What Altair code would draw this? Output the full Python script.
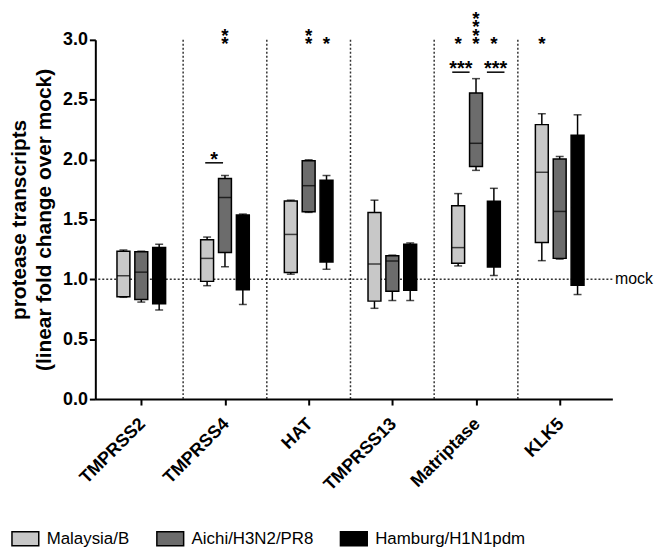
import json
import altair as alt
import pandas as pd

categories = ["TMPRSS2", "TMPRSS4", "HAT", "TMPRSS13", "Matriptase", "KLK5"]
groups = ["Malaysia/B", "Aichi/H3N2/PR8", "Hamburg/H1N1pdm"]
colors = ["#c8c8c8", "#6c6c6c", "#000000"]

# five-number summaries per group, in category order
mal_min = [0.85, 0.947, 1.043, 0.758, 1.112, 1.156]
mal_q1 = [0.855, 0.983, 1.057, 0.818, 1.134, 1.307]
mal_med = [1.03, 1.175, 1.375, 1.128, 1.265, 1.894]
mal_q3 = [1.235, 1.331, 1.655, 1.559, 1.614, 2.292]
mal_max = [1.245, 1.353, 1.661, 1.661, 1.716, 2.383]

aic_min = [0.81, 1.106, 1.559, 0.823, 1.91, 1.169]
aic_q1 = [0.832, 1.224, 1.565, 0.90, 1.943, 1.175]
aic_med = [1.06, 1.683, 1.782, 1.153, 2.136, 1.567]
aic_q3 = [1.23, 1.842, 1.99, 1.197, 2.556, 2.004]
aic_max = [1.235, 1.867, 1.998, 1.202, 2.676, 2.026]

ham_min = [0.744, 0.79, 1.084, 0.823, 1.032, 0.873]
ham_q1 = [0.796, 0.914, 1.145, 0.909, 1.103, 0.95]
ham_med = [1.0, 1.2, 1.5, 1.1, 1.35, 1.6]
ham_q3 = [1.265, 1.537, 1.828, 1.293, 1.653, 2.204]
ham_max = [1.293, 1.545, 1.867, 1.304, 1.76, 2.374]

# significance stars: category index, group index, y value (glyph centre)
star_cat = [1, 1, 2, 2, 2, 4, 4, 4, 4, 4, 4, 5]
star_grp = [1, 1, 1, 1, 2, 0, 1, 1, 1, 1, 2, 0]
star_y = [3.0, 3.068, 3.0, 3.068, 3.0, 3.0, 3.0, 3.068, 3.136, 3.204, 3.0, 3.0]

# comparison brackets: x from / to (category units), y, label
br_x1 = [0.764, 3.716, 4.13]
br_x2 = [0.977, 3.923, 4.34]
br_y = [1.973, 2.73, 2.73]
br_lab_y = [2.04, 2.80, 2.80]
br_text = ["*", "***", "***"]

y_ticks = [0, 0.5, 1.0, 1.5, 2.0, 2.5, 3.0]
mock_y = [1.0]

SPREAD = 0.2135
series = [
    (mal_min, mal_q1, mal_med, mal_q3, mal_max),
    (aic_min, aic_q1, aic_med, aic_q3, aic_max),
    (ham_min, ham_q1, ham_med, ham_q3, ham_max),
]
rows = []
for gi, (mn, q1, md, q3, mx) in enumerate(series):
    for ci, c in enumerate(categories):
        rows.append(dict(category=c, ci=ci, group=groups[gi], gi=gi,
                         mn=mn[ci], q1=q1[ci], med=md[ci], q3=q3[ci], mx=mx[ci]))
df = pd.DataFrame(rows)

stars = pd.DataFrame(dict(ci=star_cat, gi=star_grp, y=star_y, t=["*"] * len(star_cat)))
brackets = pd.DataFrame(dict(x1=br_x1, x2=br_x2, y=br_y, ly=br_lab_y, t=br_text))
seps = pd.DataFrame(dict(s=[i + 0.5 for i in range(len(categories) - 1)]))
mock = pd.DataFrame(dict(y=mock_y, x=[5.66], t=["mock"]))

label_expr = json.dumps(categories) + "[round(datum.value)]"
FONT = "Liberation Sans"

xscale = alt.Scale(domain=[-0.49, 5.57], nice=False, zero=False)
xaxis = alt.Axis(values=list(range(len(categories))), labelExpr=label_expr, labelAngle=-45,
                 labelAlign="right", labelBaseline="middle",
                 title=None, grid=False, labelFontSize=18, labelFontWeight="bold",
                 labelFont=FONT, labelColor="black", tickSize=6, tickWidth=2,
                 tickColor="black", domainWidth=2, domainColor="black", labelPadding=16,
                 labelOffset=1)
yscale = alt.Scale(domain=[0, 3], nice=False)
yaxis = alt.Axis(values=y_ticks, format=".1f", grid=False,
                 title=["protease transcripts", "(linear fold change over mock)"],
                 titleFontSize=21, titleFont=FONT, titleFontWeight="bold", titleColor="black",
                 titleLineHeight=25, titlePadding=8,
                 labelFontSize=18, labelFontWeight="bold", labelFont=FONT, labelColor="black",
                 tickSize=6, tickWidth=2, tickColor="black", domainWidth=2, domainColor="black",
                 labelPadding=2)


def X(field):
    return alt.X(field, type="quantitative", scale=xscale, axis=xaxis)


def Y(field):
    return alt.Y(field, type="quantitative", scale=yscale, axis=yaxis)


base = alt.Chart(df).transform_calculate(pos=f"datum.ci + (datum.gi - 1) * {SPREAD}")

sep_layer = alt.Chart(seps).mark_rule(strokeDash=[2, 2], strokeWidth=1.5, color="#333333").encode(
    x=X("s"))
mock_layer = alt.Chart(mock).mark_rule(strokeDash=[2, 2], strokeWidth=1.5, color="#333333").encode(
    y=Y("y"))
mock_text = alt.Chart(mock).mark_text(align="left", baseline="middle", fontSize=16, font=FONT,
                                      color="black").encode(x=X("x"), y=Y("y"), text="t:N")

whisk = base.mark_rule(color="black", strokeWidth=1.5).encode(x=X("pos"), y=Y("mn"), y2="mx")
cap_hi = base.mark_tick(orient="horizontal", size=8, thickness=1.5, color="black").encode(
    x=X("pos"), y=Y("mx"))
cap_lo = base.mark_tick(orient="horizontal", size=8, thickness=1.5, color="black").encode(
    x=X("pos"), y=Y("mn"))
box = base.mark_bar(size=13, stroke="black", strokeWidth=1.5).encode(
    x=X("pos"), y=Y("q1"), y2="q3",
    fill=alt.Fill("group:N", sort=groups,
                  scale=alt.Scale(domain=groups, range=colors),
                  legend=alt.Legend(title=None, orient="none", direction="horizontal",
                                    legendX=-85, legendY=488,
                                    symbolType="M-1,-0.52H1V0.52H-1Z", symbolSize=729,
                                    symbolStrokeColor="black", symbolStrokeWidth=1.5,
                                    labelFontSize=17, labelFont=FONT, labelColor="black",
                                    labelOffset=7, columnPadding=24)))
median = base.mark_tick(orient="horizontal", size=13, thickness=1.5, color="black").encode(
    x=X("pos"), y=Y("med"))

star_layer = alt.Chart(stars).transform_calculate(
    pos=f"datum.ci + (datum.gi - 1) * {SPREAD}").mark_text(
    fontSize=19, fontWeight="bold", font=FONT, color="black", baseline="middle", dy=4).encode(
    x=X("pos"), y=Y("y"), text="t:N")

br_rule = alt.Chart(brackets).mark_rule(color="black", strokeWidth=1.5).encode(
    x=X("x1"), x2="x2", y=Y("y"))
br_text_layer = alt.Chart(brackets).transform_calculate(
    mid="(datum.x1 + datum.x2) / 2").mark_text(
    fontSize=20, fontWeight="bold", font=FONT, color="black", baseline="middle", dy=5).encode(
    x=X("mid"), y=Y("ly"), text="t:N")

chart = alt.layer(sep_layer, mock_layer, mock_text, whisk, cap_hi, cap_lo, box, median,
                  star_layer, br_rule, br_text_layer).properties(
    width=521, height=362, padding={"left": 0, "top": 0, "right": 5, "bottom": 0}
).configure_view(stroke=None)

chart.save("out.html", embed_options={"renderer": "svg", "actions": False})
